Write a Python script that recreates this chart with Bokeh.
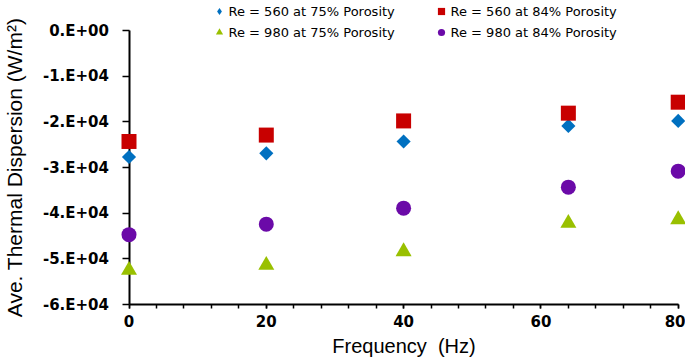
import math
from bokeh.plotting import figure
from bokeh.models import Range1d, FixedTicker, Legend, LegendItem
from bokeh.embed import file_html
from bokeh.resources import INLINE

# ---------------- data ----------------
freq = [0, 20, 40, 64, 80]
re560_75 = [-27700, -26900, -24300, -20900, -19800]
re560_84 = [-24300, -22900, -19800, -18100, -15700]
re980_75 = [-52500, -51400, -48400, -42200, -41400]
re980_84 = [-44700, -42400, -38900, -34300, -30800]

series_labels = ["Re = 560 at 75% Porosity", "Re = 560 at 84% Porosity",
                 "Re = 980 at 75% Porosity", "Re = 980 at 84% Porosity"]

x_major_ticks = [0, 20, 40, 60, 80]
x_minor_ticks = [0, 4, 8, 12, 16, 20, 24, 28, 32, 36, 40, 44, 48, 52, 56, 60, 64, 68, 72, 76, 80]
y_ticks = [0, -10000, -20000, -30000, -40000, -50000, -60000]
y_tick_labels = ["0.E+00", "-1.E+04", "-2.E+04", "-3.E+04", "-4.E+04", "-5.E+04", "-6.E+04"]
x_bounds = (0, 80)
y_bounds = (-60000, 0)

# ---------------- layout ----------------
W, H = 685, 362
AX_LEFT, AX_RIGHT = 128.5, 677.7   # px of x=0 and x=80
AX_TOP, AX_BOTTOM = 30.0, 304.0    # px of y=0 and y=-6e4

ppx = (AX_RIGHT - AX_LEFT) / (x_bounds[1] - x_bounds[0])
x_start = x_bounds[0] - AX_LEFT / ppx
x_end = x_bounds[1] + (W - AX_RIGHT) / ppx
ppy = (AX_BOTTOM - AX_TOP) / (y_bounds[1] - y_bounds[0])
y_end = y_bounds[1] + AX_TOP / ppy
y_start = y_bounds[0] - (H - AX_BOTTOM) / ppy

p = figure(width=W, height=H, x_range=Range1d(x_start, x_end), y_range=Range1d(y_start, y_end),
           output_backend="svg", toolbar_location=None, min_border=0,
           outline_line_color=None, background_fill_color="white")
p.xgrid.visible = False
p.ygrid.visible = False

tick_font = "DejaVu Sans"
title_font = "Liberation Sans"

xa = p.xaxis[0]
xa.fixed_location = y_bounds[0]
xa.bounds = x_bounds
xa.ticker = FixedTicker(ticks=x_major_ticks, minor_ticks=x_minor_ticks)
xa.axis_line_width = 2
xa.axis_line_color = "black"
xa.major_tick_line_width = 1.5
xa.minor_tick_line_width = 1.5
xa.major_tick_line_color = "black"
xa.minor_tick_line_color = "black"
xa.major_tick_out = 4
xa.major_tick_in = 0
xa.minor_tick_out = 4
xa.minor_tick_in = 0
xa.major_label_standoff = 6
xa.major_label_text_font = tick_font
xa.major_label_text_font_style = "bold"
xa.major_label_text_font_size = "15px"
xa.major_label_text_color = "black"
xa.axis_label = "Frequency\u00a0 (Hz)"
xa.axis_label_text_font = title_font
xa.axis_label_text_font_style = "normal"
xa.axis_label_text_font_size = "20px"
xa.axis_label_text_color = "black"
xa.axis_label_standoff = 5

ya = p.yaxis[0]
ya.fixed_location = x_bounds[0]
ya.bounds = y_bounds
ya.ticker = FixedTicker(ticks=y_ticks, minor_ticks=[])
ya.major_label_overrides = {t: l for t, l in zip(y_ticks, y_tick_labels)}
ya.axis_line_width = 2
ya.axis_line_color = "black"
ya.major_tick_line_width = 1.5
ya.major_tick_line_color = "black"
ya.major_tick_out = 7
ya.major_tick_in = 0
ya.minor_tick_out = 0
ya.minor_tick_in = 0
ya.major_label_standoff = 13
ya.major_label_text_font = tick_font
ya.major_label_text_font_style = "bold"
ya.major_label_text_font_size = "15px"
ya.major_label_text_color = "black"
ya.axis_label = "Ave. Thermal Dispersion (W/m\u00b2)"
ya.axis_label_text_font = title_font
ya.axis_label_text_font_style = "normal"
ya.axis_label_text_font_size = "21px"
ya.axis_label_text_color = "black"
ya.axis_label_standoff = 14

blue, red, green, purple = "#0070C0", "#C80000", "#99C000", "#6B0AA8"

r_blue = p.scatter(freq, re560_75, marker="square", angle=math.pi / 4, size=10,
                   fill_color=blue, line_color=None, level="overlay")
r_blue_leg = p.scatter(freq, re560_75, marker="diamond", size=0,
                       fill_color=blue, line_color=None)
r_red = p.scatter(freq, re560_84, marker="square", size=15,
                  fill_color=red, line_color=None, level="overlay")
r_green = p.scatter(freq, re980_75, marker="triangle", size=16,
                    fill_color=green, line_color=None, level="overlay")
r_purple = p.scatter(freq, re980_84, marker="circle", size=15,
                     fill_color=purple, line_color=None, level="overlay")

legend = Legend(
    items=[LegendItem(label=series_labels[0], renderers=[r_blue_leg]),
           LegendItem(label=series_labels[1], renderers=[r_red]),
           LegendItem(label=series_labels[2], renderers=[r_green]),
           LegendItem(label=series_labels[3], renderers=[r_purple])],
    location=(208.5, H - 41), orientation="horizontal", ncols=2,
    glyph_width=20, glyph_height=18, label_height=18, label_width=199,
    label_standoff=0, spacing=3, padding=0, margin=0,
    border_line_color=None, background_fill_alpha=0,
    label_text_font="DejaVu Sans", label_text_font_size="13px", label_text_color="black")
p.add_layout(legend)

open("out.html", "w").write(file_html(p, INLINE))
